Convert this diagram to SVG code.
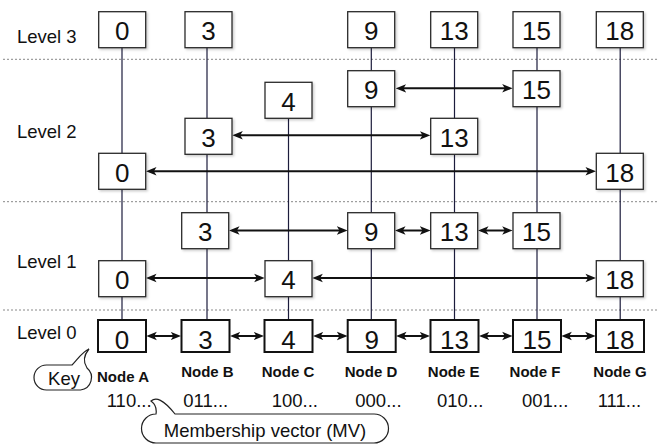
<svg xmlns="http://www.w3.org/2000/svg" width="657" height="444" viewBox="0 0 657 444">
<style>
text{font-family:"Liberation Sans",Arial,Helvetica,sans-serif;fill:#111}
.lvl{font-size:18.5px}
.num{font-size:26px;text-anchor:middle}
.nl{font-size:15px;font-weight:bold;text-anchor:middle}
.mv{font-size:18.5px}
.box{fill:#fff;stroke:#2a2a2a;stroke-width:1.3;filter:url(#sh)}
.box0{fill:#fff;stroke:#111;stroke-width:2}
.vl{stroke:#1c1c3c;stroke-width:1.2;fill:none}
.ar{stroke:#111;stroke-width:2;fill:none;marker-start:url(#ah);marker-end:url(#ah)}
.dash{stroke:#888;stroke-width:1;stroke-dasharray:2 2;fill:none}
.bub{fill:#fff;stroke:#222;stroke-width:1.2}
</style>
<defs>
<filter id="sh" x="-20%" y="-20%" width="150%" height="150%">
<feDropShadow dx="1.5" dy="1.5" stdDeviation="1" flood-color="#000" flood-opacity="0.2"/>
</filter>
<marker id="ah" viewBox="0 0 10 10" refX="6.5" refY="5" markerWidth="10.5" markerHeight="10.5" markerUnits="userSpaceOnUse" orient="auto-start-reverse">
<path d="M0,1 L10,5 L0,9 L2.5,5 Z" fill="#111"/>
</marker>
</defs>
<rect width="657" height="444" fill="#fff"/>
<g id="separators">
<line class="dash" x1="3" y1="59.3" x2="657" y2="59.3"/>
<line class="dash" x1="3" y1="201.7" x2="657" y2="201.7"/>
<line class="dash" x1="3" y1="310" x2="657" y2="310"/>
</g>
<g id="level-labels">
<text class="lvl" x="17" y="43.3">Level 3</text>
<text class="lvl" x="17" y="137.7">Level 2</text>
<text class="lvl" x="17" y="268.3">Level 1</text>
<text class="lvl" x="17" y="339.3">Level 0</text>
</g>
<g id="connectors">
<line class="vl" x1="122" y1="30" x2="122" y2="336"/>
<line class="vl" x1="207" y1="30" x2="207" y2="336"/>
<line class="vl" x1="288.5" y1="100" x2="288.5" y2="336"/>
<line class="vl" x1="371.3" y1="30" x2="371.3" y2="336"/>
<line class="vl" x1="454.5" y1="30" x2="454.5" y2="336"/>
<line class="vl" x1="537" y1="30" x2="537" y2="336"/>
<line class="vl" x1="620.2" y1="30" x2="620.2" y2="336"/>
<line class="ar" x1="399.3" y1="88.3" x2="509" y2="88.3"/>
<line class="ar" x1="236" y1="135.3" x2="426.7" y2="135.3"/>
<line class="ar" x1="149.7" y1="171.3" x2="592.3" y2="171.3"/>
<line class="ar" x1="232.7" y1="230.5" x2="343.7" y2="230.5"/>
<line class="ar" x1="398.7" y1="230.5" x2="426.7" y2="230.5"/>
<line class="ar" x1="481.7" y1="230.5" x2="509" y2="230.5"/>
<line class="ar" x1="149.7" y1="278" x2="261" y2="278"/>
<line class="ar" x1="316" y1="278" x2="592.3" y2="278"/>
<line class="ar" x1="150" y1="336" x2="177.5" y2="336"/>
<line class="ar" x1="233.5" y1="336" x2="260.5" y2="336"/>
<line class="ar" x1="316.5" y1="336" x2="343.7" y2="336"/>
<line class="ar" x1="399.7" y1="336" x2="426.5" y2="336"/>
<line class="ar" x1="482.5" y1="336" x2="509" y2="336"/>
<line class="ar" x1="565" y1="336" x2="592" y2="336"/>
</g>
<g id="L3-0"><rect class="box" x="98.7" y="11.7" width="47" height="36"/><text class="num" x="122.2" y="40.3">0</text></g>
<g id="L3-3"><rect class="box" x="185" y="11.7" width="47" height="36"/><text class="num" x="208.5" y="40.3">3</text></g>
<g id="L3-9"><rect class="box" x="347.7" y="11.7" width="47" height="36"/><text class="num" x="371.2" y="40.3">9</text></g>
<g id="L3-13"><rect class="box" x="430.7" y="11.7" width="47" height="36"/><text class="num" x="454.2" y="40.3">13</text></g>
<g id="L3-15"><rect class="box" x="513" y="11.7" width="47" height="36"/><text class="num" x="536.5" y="40.3">15</text></g>
<g id="L3-18"><rect class="box" x="596.3" y="11.7" width="47" height="36"/><text class="num" x="619.8" y="40.3">18</text></g>
<g id="L2-4"><rect class="box" x="265" y="82.3" width="47" height="36"/><text class="num" x="288.5" y="110.9">4</text></g>
<g id="L2-9"><rect class="box" x="347.7" y="70.7" width="47" height="36"/><text class="num" x="371.2" y="99.3">9</text></g>
<g id="L2-15"><rect class="box" x="513" y="70.7" width="47" height="36"/><text class="num" x="536.5" y="99.3">15</text></g>
<g id="L2-3"><rect class="box" x="185" y="118.3" width="47" height="36"/><text class="num" x="208.5" y="146.9">3</text></g>
<g id="L2-13"><rect class="box" x="430.7" y="118.3" width="47" height="36"/><text class="num" x="454.2" y="146.9">13</text></g>
<g id="L2-0"><rect class="box" x="98.7" y="153.3" width="47" height="36"/><text class="num" x="122.2" y="181.9">0</text></g>
<g id="L2-18"><rect class="box" x="596.3" y="153.3" width="47" height="36"/><text class="num" x="619.8" y="181.9">18</text></g>
<g id="L1-3"><rect class="box" x="181.7" y="212.7" width="47" height="36"/><text class="num" x="205.2" y="241.3">3</text></g>
<g id="L1-9"><rect class="box" x="347.7" y="212.7" width="47" height="36"/><text class="num" x="371.2" y="241.3">9</text></g>
<g id="L1-13"><rect class="box" x="430.7" y="212.7" width="47" height="36"/><text class="num" x="454.2" y="241.3">13</text></g>
<g id="L1-15"><rect class="box" x="513" y="212.7" width="47" height="36"/><text class="num" x="536.5" y="241.3">15</text></g>
<g id="L1-0"><rect class="box" x="98.7" y="260.7" width="47" height="36"/><text class="num" x="122.2" y="289.3">0</text></g>
<g id="L1-4"><rect class="box" x="265" y="260.7" width="47" height="36"/><text class="num" x="288.5" y="289.3">4</text></g>
<g id="L1-18"><rect class="box" x="596.3" y="260.7" width="47" height="36"/><text class="num" x="619.8" y="289.3">18</text></g>
<g id="L0-0"><rect class="box0" x="98" y="320" width="48" height="32"/><text class="num" x="122" y="348.5">0</text></g>
<g id="L0-3"><rect class="box0" x="181.5" y="320" width="48" height="32"/><text class="num" x="205.5" y="348.5">3</text></g>
<g id="L0-4"><rect class="box0" x="264.5" y="320" width="48" height="32"/><text class="num" x="288.5" y="348.5">4</text></g>
<g id="L0-9"><rect class="box0" x="347.7" y="320" width="48" height="32"/><text class="num" x="371.7" y="348.5">9</text></g>
<g id="L0-13"><rect class="box0" x="430.5" y="320" width="48" height="32"/><text class="num" x="454.5" y="348.5">13</text></g>
<g id="L0-15"><rect class="box0" x="513" y="320" width="48" height="32"/><text class="num" x="537" y="348.5">15</text></g>
<g id="L0-18"><rect class="box0" x="596" y="320" width="48" height="32"/><text class="num" x="620" y="348.5">18</text></g>
<g id="node-labels">
<text class="nl" x="123" y="381.5">Node A</text>
<text class="nl" x="207.4" y="377.3">Node B</text>
<text class="nl" x="288" y="377.3">Node C</text>
<text class="nl" x="371" y="377.3">Node D</text>
<text class="nl" x="453.7" y="377.3">Node E</text>
<text class="nl" x="535" y="377.3">Node F</text>
<text class="nl" x="620" y="377.3">Node G</text>
</g>
<g id="membership-values">
<text class="mv" x="106.7" y="407">110...</text>
<text class="mv" x="183.3" y="407">011...</text>
<text class="mv" x="271.7" y="407">100...</text>
<text class="mv" x="355.3" y="407">000...</text>
<text class="mv" x="437" y="407">010...</text>
<text class="mv" x="522" y="407">001...</text>
<text class="mv" x="597.7" y="407">111...</text>
</g>
<g id="key-callout">
<path class="bub" d="M46.5,365 H72 C77,360 82,352 89,349 C84,355 83,362 87,368 A12.5,12.5 0 0 1 80.5,390 H46.5 A12.5,12.5 0 0 1 46.5,365 Z"/>
<text class="lvl" x="64" y="385" text-anchor="middle">Key</text>
</g>
<g id="mv-callout">
<path class="bub" d="M156,414 C157,408 155,404 151,401 C156,397 163,399 175,414 H374 A14.5,14.5 0 0 1 374,443 H156 A14.5,14.5 0 0 1 156,414 Z"/>
<text class="lvl" x="265" y="437" text-anchor="middle">Membership vector (MV)</text>
</g>
</svg>
